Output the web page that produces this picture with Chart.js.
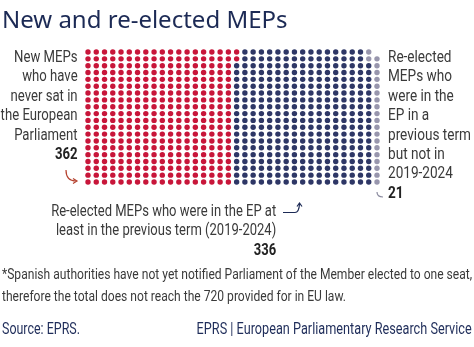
<!DOCTYPE html>
<html>
<head>
<meta charset="utf-8">
<script src="https://cdn.jsdelivr.net/npm/chart.js@4.4.1/dist/chart.umd.min.js"></script>
<style>
  html, body { margin: 0; padding: 0; background: #fff; }
  #wrap { position: relative; width: 474px; height: 347px; overflow: hidden; }
  #mepChart { position: absolute; left: 0; top: 0; }
  .t { position: absolute; white-space: nowrap; font-family: Roboto, "Liberation Sans", sans-serif; color: #3a3a3a; font-size: 16.5px; line-height: 19.4px; }
  .title { font-family: "Noto Sans", "Open Sans", sans-serif; font-size: 24px; color: #1c2a55; left: 2px; top: 3px; line-height: 32px; }
  .r { text-align: right; }
  .b { font-weight: bold; color: #222; }
  .foot { font-size: 15px; line-height: 21.5px; color: #3a3a3a; }
  .src { font-size: 16.5px; color: #1f2d5a; }
  svg { position: absolute; left: 0; top: 0; }
</style>
</head>
<body>
<div id="wrap">
  <canvas id="mepChart" width="474" height="347"></canvas>
  <div class="t title">New and re-elected MEPs</div>
  <div class="t r fit" data-w="77" data-o="right" style="right:396px; top:47px;">New MEPs<br>who have<br>never sat in<br>the European<br>Parliament<br><span class="b">362</span></div>
  <div class="t fit" data-w="83" data-o="left" style="left:388px; top:47px;">Re-elected<br>MEPs who<br>were in the<br>EP in a<br>previous term<br>but not in<br>2019-2024<br><span class="b">21</span></div>
  <div class="t r fit" data-w="225" data-o="right" style="right:198px; top:201px;">Re-elected MEPs who were in the EP at<br>least in the previous term (2019-2024)<br><span class="b">336</span></div>
  <div class="t foot fit" data-w="470" data-o="left" style="left:2px; top:264px;">*Spanish authorities have not yet notified Parliament of the Member elected to one seat,<br>therefore the total does not reach the 720 provided for in EU law.</div>
  <div class="t src fit" data-w="78" data-o="left" style="left:2px; top:319px;">Source: EPRS.</div>
  <div class="t src fit" data-w="275" data-o="right" style="right:2px; top:319px;">EPRS | European Parliamentary Research Service</div>
  <svg width="474" height="347">
    <path d="M66 170 Q66 181 76 181" fill="none" stroke="#b5422f" stroke-width="1.2"/>
    <path d="M73 178.5 L77 181 L73 183.5" fill="none" stroke="#b5422f" stroke-width="1.2"/>
    <path d="M283 212.5 L295 212.5 Q299 212.5 299.5 204" fill="none" stroke="#1c2a55" stroke-width="1.2"/>
    <path d="M297 206.5 L299.5 203 L302 206.5" fill="none" stroke="#1c2a55" stroke-width="1.2"/>
    <path d="M377 192 Q377 197 383 197" fill="none" stroke="#8a8a9e" stroke-width="1.2"/>
  </svg>
</div>
<script>
const categories = ['New MEPs who have never sat in the European Parliament',
                    'Re-elected MEPs who were in the EP at least in the previous term (2019-2024)',
                    'Re-elected MEPs who were in the EP in a previous term but not in 2019-2024'];
const seatCounts = [362, 336, 21];
const fillFrom = ['top', 'bottom', 'bottom'];
const dotColors = ['#c8163a', '#2e3766', '#9896ad'];
const gridColumns = 36;
const gridRows = 20;

// squeeze the label blocks to look like the condensed font of the original
document.querySelectorAll('.fit').forEach(el => {
    const s = Number(el.dataset.w) / el.getBoundingClientRect().width;
    el.style.transformOrigin = el.dataset.o + ' top';
    el.style.transform = 'scaleX(' + s.toFixed(3) + ')';
});

// place dots column by column, skipping cells already taken
const taken = new Set();
function placeDots(count, from) {
    const pts = [];
    for (let c = 1; c <= gridColumns; c++) {
        for (let i = 0; i < gridRows; i++) {
            const r = from === 'top' ? i + 1 : gridRows - i;
            const key = c + '-' + r;
            if (pts.length < count && !taken.has(key)) {
                taken.add(key);
                pts.push({ x: c, y: r });
            }
        }
    }
    return pts;
}

const datasets = categories.map((label, i) => ({
    label: label,
    data: placeDots(seatCounts[i], fillFrom[i]),
    backgroundColor: dotColors[i],
    borderWidth: 0,
    pointRadius: 2.7,
    pointHoverRadius: 2.7,
    clip: false
}));

new Chart(document.getElementById('mepChart').getContext('2d'), {
    type: 'scatter',
    data: { datasets: datasets },
    options: {
        responsive: false,
        animation: false,
        layout: { padding: { left: 88, right: 97, top: 52, bottom: 165 } },
        scales: {
            x: { display: false, min: 1, max: gridColumns },
            y: { display: false, min: 1, max: gridRows, reverse: true }
        },
        plugins: {
            legend: { display: false },
            tooltip: { enabled: false }
        }
    }
});
</script>
</body>
</html>
